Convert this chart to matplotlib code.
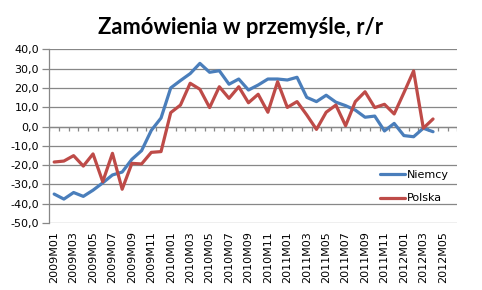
import matplotlib.pyplot as plt
import numpy as np

# miesiące 2009M01 .. 2012M06 (oś kategorii), dane do 2012M04
miesiace = [f"{r}M{m:02d}" for r in range(2009, 2013) for m in range(1, 13)][:42]

niemcy = [-35.0, -37.6, -34.2, -36.2, -33.0, -29.2, -25.1, -23.6, -17.0, -12.5,
          -2.0, 4.4, 20.0, 23.8, 27.4, 32.7, 28.1, 28.9, 21.9, 24.6,
          18.9, 21.5, 24.6, 24.6, 24.1, 25.5, 15.1, 12.9, 16.2, 12.6,
          10.8, 8.5, 4.8, 5.4, -2.3, 1.6, -4.7, -5.3, -0.9, -2.7]
polska = [-18.4, -17.9, -15.1, -20.5, -14.2, -28.6, -13.9, -32.5, -19.1, -19.4,
          -13.4, -13.0, 7.2, 11.1, 22.4, 19.3, 9.8, 20.6, 14.6, 20.6,
          12.3, 16.7, 7.4, 23.2, 9.9, 12.9, 6.0, -1.5, 7.4, 11.1,
          0.4, 12.9, 18.0, 9.8, 11.5, 6.5, 17.5, 28.8, -0.9, 3.9]

fig = plt.figure(figsize=(4.82, 2.9), dpi=100)
ax = fig.add_axes([0.1023, 0.231, 0.8465, 0.599])

ax.plot(np.arange(len(niemcy)), niemcy, color='#4A7EBB', lw=2.3, label='Niemcy',
        solid_capstyle='round')
ax.plot(np.arange(len(polska)), polska, color='#BE4B48', lw=2.3, label='Polska',
        solid_capstyle='round')

ax.set_xlim(-0.5, len(miesiace) - 0.5)
ax.set_ylim(-50, 40)
yt = np.arange(-50, 41, 10)
ax.set_yticks(yt)
ax.set_yticklabels([f"{v:.1f}".replace('.', ',') for v in yt], fontsize=8)
ax.yaxis.grid(True, color='#878787', lw=0.9)
ax.set_axisbelow(True)

ax.set_xticks(np.arange(0, len(miesiace), 2))
ax.set_xticklabels(miesiace[::2], rotation=90, fontsize=8)
ax.tick_params(axis='x', length=0, pad=6)
ax.tick_params(axis='y', length=5, color='#878787', width=0.9, pad=2.5)

for s in ['top', 'right', 'bottom']:
    ax.spines[s].set_visible(False)
ax.spines['left'].set_color('#878787')
ax.spines['left'].set_linewidth(0.9)

# oś kategorii na wysokości 0 z kreskami między kategoriami
ax.axhline(0, color='#878787', lw=0.9, zorder=1)
granice = np.arange(-0.5, len(miesiace), 1)
ax.vlines(granice, -2.2, 0, color='#878787', lw=0.9, zorder=1)

ax.legend(loc='center left', bbox_to_anchor=(0.81, 0.21), frameon=False,
          fontsize=8, handlelength=2.3, handletextpad=0.15, labelspacing=1.25,
          borderpad=0, borderaxespad=0)

fig.text(0.5, 0.905, 'Zamówienia w przemyśle, r/r', ha='center', va='center',
         fontsize=15.8, fontweight='bold', family='Lato')

fig.savefig('out.png', dpi=100)
